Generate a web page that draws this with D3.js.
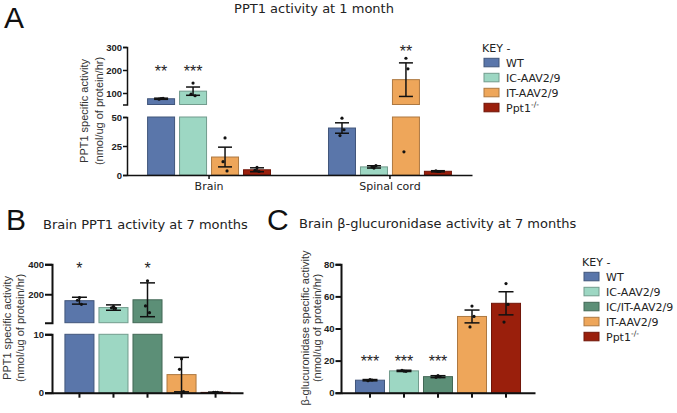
<!DOCTYPE html>
<html>
<head>
<meta charset="utf-8">
<script src="https://cdn.jsdelivr.net/npm/d3@7"></script>
<style>
  body { margin: 0; background: #fff; }
  svg { display: block; }
</style>
</head>
<body>
<svg id="chart" width="677" height="413"></svg>
<script>

// ---- panel A : PPT1 activity at 1 month
const tissues = ["Brain", "Spinal cord"];
const groupsA = ["WT", "IC-AAV2/9", "IT-AAV2/9", "Ppt1"];
const brainMeansA = [75, 108, 15.5, 4.5];
const brainErrA = [2.5, 18, 8.5, 1.7];
const brainDotsA = [[76, 73, 77], [143, 95, 88], [32, 11.5, 3.5], [6.5, 4, 3]];
const cordMeansA = [40.5, 7, 158, 3.2];
const cordErrA = [4.5, 1, 73, 0.5];
const cordDotsA = [[49, 34, 39], [6, 7, 8], [251, 20, 205], [3, 3.5, 3]];
const starsBrainA = ["**", "***", "", ""];
const starsCordA = ["", "", "**", ""];
const starLevelA = [175, 261];
const ticksLowA = [0, 25, 50];
const ticksHighA = [100, 200, 300];

// ---- panel B : brain PPT1 at 7 months
const groupsBC = ["WT", "IC-AAV2/9", "IC/IT-AAV2/9", "IT-AAV2/9", "Ppt1"];
const meansB = [157, 111, 163, 3.1, 0.05];
const errB = [23, 18, 113, 2.95, 0.05];
const dotsB = [[178, 160, 133], [118, 110, 105], [290, 122, 77], [5.8, 4, 0.2], [0.05, 0.05, 0.05]];
const starsB = ["*", "", "*", "", ""];
const starLevelB = 344;
const ticksLowB = [0, 10];
const ticksHighB = [200, 400];

// ---- panel C : brain beta-glucuronidase at 7 months
const meansC = [7.8, 13.6, 10, 47.5, 55.7];
const errC = [0.4, 0.4, 0.6, 4, 7.2];
const dotsC = [[8.1, 7.5, 7.9], [13.5, 14, 13.3], [10.6, 9.6, 10], [54, 41, 47.5], [68, 44, 55]];
const starsC = ["***", "***", "***", "", ""];
const starLevelC = 16.7;
const ticksC = [0, 20, 40, 60, 80];

const fills = {
  "WT": "#5a76aa",
  "IC-AAV2/9": "#9dd7c3",
  "IC/IT-AAV2/9": "#5c8f77",
  "IT-AAV2/9": "#eea65a",
  "Ppt1": "#9a1f0c"
};

const svg = d3.select("#chart");
const sans = "'DejaVu Sans', Verdana, sans-serif";
const arial = "'Liberation Sans', Arial, sans-serif";

// two linear pieces glued together, used for the broken axes
function splitScale(lo, hi) {
  const cut = lo.domain()[1];
  const f = v => v <= cut ? lo(v) : hi(v);
  f.cut = cut; f.lo = lo; f.hi = hi;
  return f;
}

function drawBars(g, rows, y, capW) {
  rows.forEach(d => {
    const x0 = d.x, w = d.w, cx = x0 + w / 2;
    const fill = fills[d.group];
    const edge = d3.color(fill).darker(0.9);
    const pieces = (y.cut !== undefined && d.mean > y.cut)
      ? [[y.lo(y.cut), y.lo(0)], [y.hi(d.mean), y.hi(y.cut)]]
      : [[y(d.mean), y(0)]];
    pieces.forEach(([t, b]) => {
      g.append("rect")
        .attr("x", x0).attr("y", t)
        .attr("width", w).attr("height", Math.max(0.5, b - t))
        .attr("fill", fill).attr("stroke", edge).attr("stroke-width", 1);
    });
    const yt = y(d.mean + d.err), yb = y(Math.max(0, d.mean - d.err));
    const err = g.append("g").attr("stroke", "#111").attr("stroke-width", 1.5);
    err.append("line").attr("x1", cx).attr("x2", cx).attr("y1", yt).attr("y2", yb);
    err.append("line").attr("x1", cx - capW).attr("x2", cx + capW).attr("y1", yt).attr("y2", yt);
    err.append("line").attr("x1", cx - capW).attr("x2", cx + capW).attr("y1", yb).attr("y2", yb);
    g.selectAll(null).data(d.dots).join("circle")
      .attr("cx", (v, i) => cx + [0, -2, 2][i])
      .attr("cy", v => y(v))
      .attr("r", 1.6)
      .attr("fill", "#111");
    if (d.star) {
      g.append("text")
        .attr("x", cx).attr("y", y(d.starLevel) + 1)
        .attr("text-anchor", "middle")
        .attr("font-family", arial).attr("font-size", 16)
        .attr("fill", "#222")
        .text(d.star);
    }
  });
}

function styleAxis(sel, width, bold) {
  sel.select(".domain").attr("stroke", "#111").attr("stroke-width", width);
  sel.selectAll(".tick line").attr("stroke", "#111").attr("stroke-width", width);
  sel.selectAll(".tick text")
    .attr("font-family", arial)
    .attr("font-weight", bold ? "bold" : "normal")
    .attr("fill", "#222");
}

function yLabel(x1, x2, cy, line1, line2) {
  const t = svg.append("g").attr("font-family", arial).attr("font-size", 11).attr("fill", "#333");
  t.append("text").attr("transform", `translate(${x1},${cy}) rotate(-90)`)
    .attr("text-anchor", "middle").text(line1);
  t.append("text").attr("transform", `translate(${x2},${cy}) rotate(-90)`)
    .attr("text-anchor", "middle").text(line2);
}

function legend(x, y, keys) {
  const g = svg.append("g").attr("font-family", sans).attr("font-size", 11).attr("fill", "#222");
  g.append("text").attr("x", x).attr("y", y).text("KEY -");
  keys.forEach((k, i) => {
    const cy = y + 10.5 + i * 15;
    g.append("rect").attr("x", x + 2).attr("y", cy - 4.2)
      .attr("width", 15).attr("height", 8.5)
      .attr("fill", fills[k]).attr("stroke", d3.color(fills[k]).darker(0.9));
    const t = g.append("text").attr("x", x + 24).attr("y", cy + 4);
    if (k === "Ppt1") {
      t.text("Ppt1");
      t.append("tspan").attr("dy", -4.5).attr("font-size", 7.5).text("-/-");
    } else {
      t.text(k);
    }
  });
}

function panelLetter(x, y, s) {
  svg.append("text").attr("x", x).attr("y", y)
    .attr("font-family", arial).attr("font-size", 30).attr("fill", "#111").text(s);
}

function title(x, y, s, anchor) {
  svg.append("text").attr("x", x).attr("y", y)
    .attr("text-anchor", anchor)
    .attr("font-family", sans).attr("font-size", 13).attr("fill", "#222").text(s);
}

// ================= A
panelLetter(4, 28, "A");
title(314, 13, "PPT1 activity at 1 month", "middle");

const yA = splitScale(
  d3.scaleLinear().domain([0, 50]).range([175, 117]),
  d3.scaleLinear().domain([50, 300]).range([104.5, 47])
);
const xA = d3.scaleBand().domain(tissues).range([127, 472]).paddingInner(0.293).paddingOuter(0.1);
const xAin = d3.scaleBand().domain(groupsA).range([0, xA.bandwidth()]).paddingInner(0.156).paddingOuter(0.078);

const rowsA = [];
groupsA.forEach((g, i) => {
  rowsA.push({ group: g, x: xA("Brain") + xAin(g), w: xAin.bandwidth(), mean: brainMeansA[i],
    err: brainErrA[i], dots: brainDotsA[i], star: starsBrainA[i], starLevel: starLevelA[0] });
  rowsA.push({ group: g, x: xA("Spinal cord") + xAin(g), w: xAin.bandwidth(), mean: cordMeansA[i],
    err: cordErrA[i], dots: cordDotsA[i], star: starsCordA[i], starLevel: starLevelA[1] });
});
drawBars(svg.append("g"), rowsA, yA, 7);

svg.append("g").attr("transform", "translate(127,0)")
  .call(d3.axisLeft(yA.lo).tickValues(ticksLowA).tickSize(4).tickPadding(1))
  .attr("font-size", 9.5).call(styleAxis, 1.5, true);
svg.append("g").attr("transform", "translate(127,0)")
  .call(d3.axisLeft(yA.hi).tickValues(ticksHighA).tickSize(4).tickPadding(1))
  .attr("font-size", 9.5).call(styleAxis, 1.5, true);
svg.append("g").attr("transform", "translate(0,175)")
  .call(d3.axisBottom(xA).tickSize(4).tickSizeOuter(0).tickPadding(3))
  .attr("font-size", 11).call(styleAxis, 1.5, false)
  .selectAll(".tick text").attr("font-family", sans);

yLabel(88, 102.5, 111, "PPT1 specific activity", "(nmol/ug of protein/hr)");
legend(482, 52, groupsA);

// ================= B
panelLetter(6, 230, "B");
title(43, 229, "Brain PPT1 activity at 7 months", "start");

const yB = splitScale(
  d3.scaleLinear().domain([0, 10]).range([392.7, 334.3]),
  d3.scaleLinear().domain([10, 400]).range([322.7, 264.3])
);
const xB = d3.scaleBand().domain(groupsBC).range([52, 243]).paddingInner(0.147).paddingOuter(0.38);
const rowsB = groupsBC.map((g, i) => ({ group: g, x: xB(g), w: xB.bandwidth(), mean: meansB[i],
  err: errB[i], dots: dotsB[i], star: starsB[i], starLevel: starLevelB }));
drawBars(svg.append("g"), rowsB, yB, 7.5);

svg.append("g").attr("transform", "translate(52,0)")
  .call(d3.axisLeft(yB.lo).tickValues(ticksLowB).tickSize(7).tickPadding(1))
  .attr("font-size", 9.5).call(styleAxis, 2, true);
svg.append("g").attr("transform", "translate(52,0)")
  .call(d3.axisLeft(yB.hi).tickValues(ticksHighB).tickSize(7).tickPadding(1))
  .attr("font-size", 9.5).call(styleAxis, 2, true);
svg.append("g").attr("transform", "translate(0,392.7)")
  .call(d3.axisBottom(xB).tickSize(5).tickSizeOuter(0).tickFormat(""))
  .call(styleAxis, 2, false);

yLabel(11, 24, 328, "PPT1 specific activity", "(nmol/ug of protein/hr)");

// ================= C
panelLetter(267, 230, "C");
title(299, 228, "Brain \u03b2-glucuronidase activity at 7 months", "start");

const yC = d3.scaleLinear().domain([0, 80]).range([392.7, 264.3]);
const xC = d3.scaleBand().domain(groupsBC).range([341, 535]).paddingInner(0.147).paddingOuter(0.426);
const rowsC = groupsBC.map((g, i) => ({ group: g, x: xC(g), w: xC.bandwidth(), mean: meansC[i],
  err: errC[i], dots: dotsC[i], star: starsC[i], starLevel: starLevelC }));
drawBars(svg.append("g"), rowsC, yC, 7.5);

svg.append("g").attr("transform", "translate(341,0)")
  .call(d3.axisLeft(yC).tickValues(ticksC).tickSize(5.5).tickPadding(1))
  .attr("font-size", 9.5).call(styleAxis, 2, true);
svg.append("g").attr("transform", "translate(0,392.7)")
  .call(d3.axisBottom(xC).tickSize(5).tickSizeOuter(0).tickFormat(""))
  .call(styleAxis, 2, false);

yLabel(308.5, 321, 328, "\u03b2-glucuronidase specific activity", "(nmol/ug of protein/hr)");
legend(582, 266, groupsBC);

</script>
</body>
</html>
